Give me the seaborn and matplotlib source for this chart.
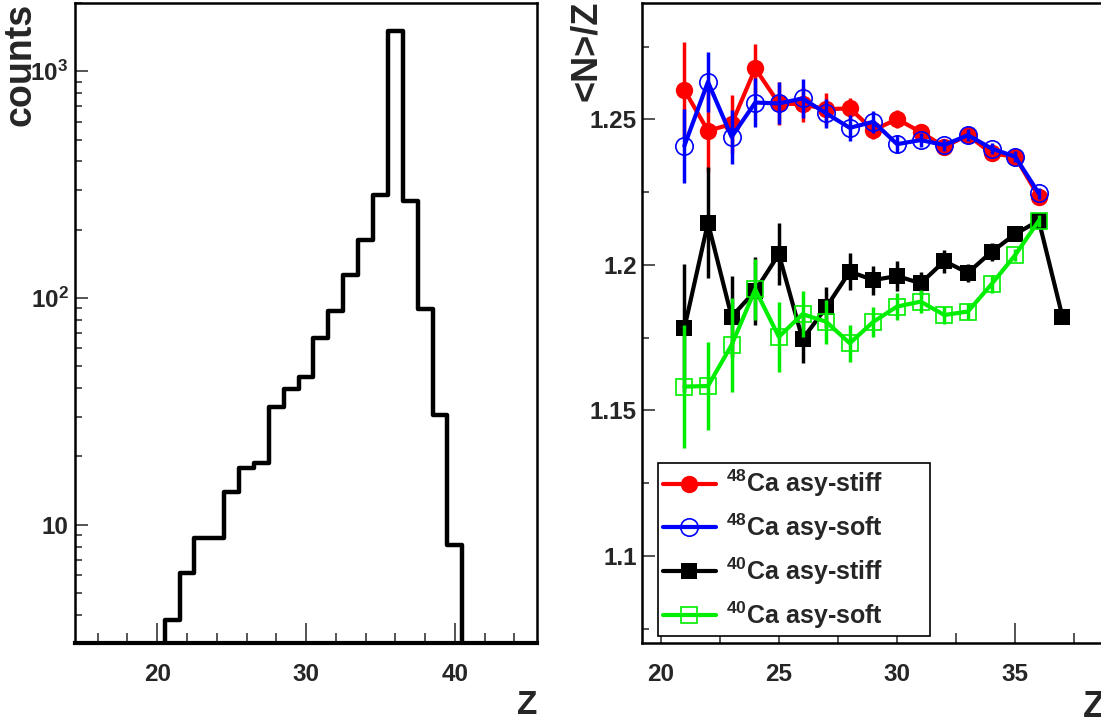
import matplotlib
matplotlib.use("Agg")
import matplotlib.pyplot as plt
from matplotlib.ticker import (FixedLocator, FixedFormatter, MultipleLocator,
                               FuncFormatter, NullFormatter, LogLocator)
import seaborn as sns

# ---- fragment charge distribution (left panel) ----
z_bins = list(range(15, 46))
counts = [0, 0, 0, 0, 0, 0,
          3.8, 6.1, 8.7, 8.7, 14.0, 17.8, 18.8, 32.9, 39.6, 44.9,
          66.4, 87.7, 126, 181, 286, 1500, 269, 89.6, 30.5, 8.1,
          0, 0, 0, 0, 0]

# ---- <N>/Z versus Z (right panel) ----
z_48 = list(range(21, 37))
nz_48_stiff = [1.2601, 1.2461, 1.2484, 1.2675, 1.2555, 1.2552, 1.2535, 1.2538,
               1.2463, 1.2501, 1.2457, 1.2406, 1.2446, 1.2383, 1.2372, 1.2234]
err_48_stiff = [0.0166, 0.014, 0.010, 0.0085, 0.0074, 0.006, 0.0055, 0.0035,
                0.003, 0.003, 0.0025, 0.002, 0.002, 0.002, 0.002, 0.002]
nz_48_soft = [1.2409, 1.2629, 1.2440, 1.2558, 1.2555, 1.2572, 1.2521, 1.2471,
              1.2492, 1.2415, 1.2429, 1.2412, 1.2446, 1.2400, 1.2372, 1.2246]
err_48_soft = [0.0128, 0.0103, 0.0092, 0.0085, 0.0072, 0.0068, 0.005, 0.0045,
               0.0038, 0.003, 0.0025, 0.002, 0.002, 0.002, 0.002, 0.002]

z_40_stiff = list(range(21, 38))
nz_40_stiff = [1.1782, 1.2145, 1.1822, 1.1911, 1.2037, 1.1745, 1.1854, 1.1977,
               1.1948, 1.1962, 1.1937, 1.2013, 1.1973, 1.2045, 1.2106, 1.2152,
               1.1822]
err_40_stiff = [0.022, 0.019, 0.014, 0.0116, 0.0106, 0.0083, 0.007, 0.0063,
                0.005, 0.005, 0.004, 0.004, 0.003, 0.003, 0.002, 0.002, 0.002]
z_40_soft = list(range(21, 37))
nz_40_soft = [1.1582, 1.1584, 1.1725, 1.1916, 1.1753, 1.1831, 1.1805, 1.1731,
              1.1805, 1.1857, 1.1874, 1.1828, 1.1840, 1.1934, 1.2034, 1.2152]
err_40_soft = [0.021, 0.015, 0.016, 0.0105, 0.012, 0.008, 0.0075, 0.0063,
               0.0052, 0.0045, 0.004, 0.003, 0.003, 0.003, 0.002, 0.002]

series_labels = ["$^{48}$Ca asy-stiff", "$^{48}$Ca asy-soft",
                 "$^{40}$Ca asy-stiff", "$^{40}$Ca asy-soft"]

sns.set_style("ticks")
plt.rcParams.update({
    "font.family": ["Liberation Sans", "DejaVu Sans"],
    "font.weight": "bold",
    "mathtext.fontset": "custom",
    "mathtext.rm": "Liberation Sans:bold",
    "mathtext.it": "Liberation Sans:bold:italic",
    "mathtext.bf": "Liberation Sans:bold",
    "mathtext.default": "rm",
    "axes.linewidth": 1.8,
    "axes.edgecolor": "black",
})

W, H = 1101, 722
fig = plt.figure(figsize=(W / 100, H / 100), dpi=100)


def box(x0, y0, x1, y1):
    return [x0 / W, 1 - y1 / H, (x1 - x0) / W, (y1 - y0) / H]


ax1 = fig.add_axes(box(75.4, 3, 536.7, 643.3))
ax2 = fig.add_axes(box(641.8, 3, 1105, 643.3))

TICK_FS = 17.5

# ---------- left: histogram ----------
edges = [z - 0.5 for z in z_bins] + [z_bins[-1] + 0.5]
sns.histplot(x=z_bins, weights=counts, bins=edges, element="step", fill=False,
             color="black", linewidth=3.2, ax=ax1)
ax1.set_yscale("log", nonpositive="clip")
ax1.set_xlim(14.5, 45.5)
ax1.set_ylim(3, 2000)
ax1.set_xlabel("")
ax1.set_ylabel("")
ax1.spines["bottom"].set_linewidth(3.0)

ax1.xaxis.set_major_locator(MultipleLocator(10))
ax1.xaxis.set_minor_locator(MultipleLocator(2))
ax1.yaxis.set_major_locator(FixedLocator([10, 100, 1000]))
ax1.yaxis.set_major_formatter(FixedFormatter(["10", "$10^{2}$", "$10^{3}$"]))
ax1.yaxis.set_minor_locator(LogLocator(base=10, subs=range(2, 10)))
ax1.yaxis.set_minor_formatter(NullFormatter())

# ---------- right: <N>/Z ----------
specs = [
    (z_48, nz_48_stiff, err_48_stiff, "#ff0000", "o", True, 12.5),
    (z_48, nz_48_soft, err_48_soft, "#0000ff", "o", False, 12.5),
    (z_40_stiff, nz_40_stiff, err_40_stiff, "#000000", "s", True, 11.5),
    (z_40_soft, nz_40_soft, err_40_soft, "#00ee00", "s", False, 11.5),
]
handles = []
for label, (z, v, e, c, m, filled, ms) in zip(series_labels, specs):
    ax2.errorbar(z, v, yerr=e, fmt="none", ecolor=c, elinewidth=2.5, capsize=0)
    sns.lineplot(x=z, y=v, ax=ax2, color=c, linewidth=3, marker=m,
                 markersize=ms,
                 markerfacecolor=c if filled else "none",
                 markeredgecolor=c, markeredgewidth=1.2 if not filled else 0,
                 errorbar=None, label=label)
    handles.append(ax2.get_lines()[-1])

ax2.set_xlim(19.2, 38.8)
ax2.set_ylim(1.07, 1.29)
ax2.set_xlabel("")
ax2.set_ylabel("")
ax2.xaxis.set_major_locator(MultipleLocator(5))
ax2.xaxis.set_minor_locator(MultipleLocator(2.5))
ax2.yaxis.set_major_locator(MultipleLocator(0.05))
ax2.yaxis.set_minor_locator(MultipleLocator(0.025))
ax2.yaxis.set_major_formatter(FuncFormatter(lambda v, p: f"{v:g}"))

leg_x0, leg_x1, leg_y1 = 658, 930, 636
ax_w, ax_h = 1105 - 641.8, 643.3 - 3
ax2.legend(handles=handles, labels=series_labels, loc="lower left",
           bbox_to_anchor=((leg_x0 - 641.8) / ax_w, (643.3 - leg_y1) / ax_h,
                           (leg_x1 - leg_x0) / ax_w, 0.2),
           mode="expand", borderaxespad=0, fancybox=False, framealpha=1,
           edgecolor="black", prop={"size": 18, "weight": "bold"},
           handlelength=2.1, handletextpad=0.4, borderpad=0.2,
           labelspacing=0.5)
ax2.get_legend().get_frame().set_linewidth(1.2)

for ax in (ax1, ax2):
    ax.tick_params(which="both", direction="in", top=False, right=False,
                   width=1.1, labelsize=TICK_FS)
    ax.tick_params(axis="x", which="major", length=14.4, pad=14)
    ax.tick_params(axis="x", which="minor", length=7.2)
    ax.tick_params(axis="y", which="major", length=9.4)
    ax.tick_params(axis="y", which="minor", length=5)
    for lab in ax.get_xticklabels() + ax.get_yticklabels():
        lab.set_fontweight("bold")
ax1.tick_params(axis="y", which="major", pad=5)
ax2.tick_params(axis="y", which="major", pad=3.6)

# axis titles
fig.text(21 / W, 1 - 3 / H, "counts", rotation=90, ha="center", va="top",
         fontsize=27, fontweight="bold")
fig.text(586 / W, 1 - 1 / H, "<N>/Z", rotation=90, ha="center", va="top",
         fontsize=26, fontweight="bold")
fig.text(537 / W, 1 - 714 / H, "Z", ha="right", va="baseline",
         fontsize=24, fontweight="bold")
fig.text(1083 / W, 1 - 717 / H, "Z", ha="left", va="baseline",
         fontsize=26.5, fontweight="bold")

fig.savefig("out.png", dpi=100)
